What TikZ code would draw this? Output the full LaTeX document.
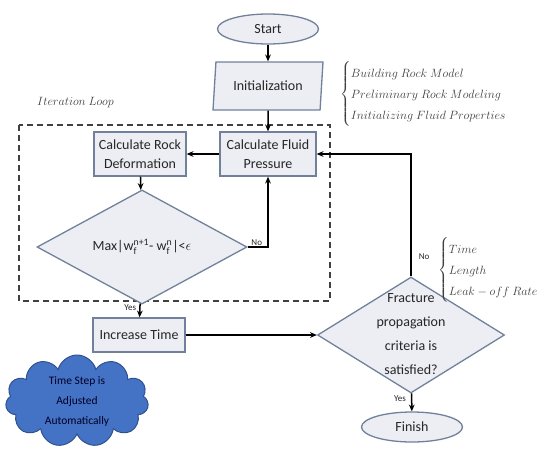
\documentclass[tikz,border=0pt]{standalone}
\usepackage{amsmath}
\usepackage{fontspec}
\setmainfont{Carlito}
\usetikzlibrary{arrows.meta,shapes.geometric,shapes.symbols}
\definecolor{boxfill}{HTML}{ECEEF3}
\definecolor{boxline}{HTML}{71819B}
\definecolor{cloudx}{HTML}{4472C4}
\definecolor{cloudline}{HTML}{2F528F}
\definecolor{notex}{HTML}{3F3F3F}
\definecolor{inkx}{HTML}{262626}
\tikzset{
  ar/.style={-{Stealth[length=2.4mm,width=2mm]},line width=1.5pt,black},
  box/.style={draw=boxline,line width=1.3pt,fill=boxfill,align=center,text=inkx,font=\fontsize{14}{19}\selectfont,inner sep=2pt},
  term/.style={box,ellipse,minimum width=101,minimum height=30},
  dec/.style={box,diamond,inner sep=0pt},
  io/.style={box,trapezium,trapezium left angle=78,trapezium right angle=102,trapezium stretches body,minimum width=110,minimum height=48},
  tag/.style={font=\fontsize{9}{10}\selectfont,text=inkx,inner sep=1pt},
  note/.style={text=notex,font=\fontsize{13}{21}\selectfont,inner sep=0pt}
}

\begin{document}
\begin{tikzpicture}[x=1pt,y=-1pt]
\useasboundingbox (0,0) rectangle (548,448);
% iteration loop frame
\draw[black!75,line width=1.2pt,dash pattern=on 6pt off 4pt] (19,125) rectangle (330,301);
\node[note,anchor=west] (looplbl) at (37,103) {$Iteration\ Loop$};
% flow
\node[term] (start) at (268,29) {Start};
\node[io] (init) at (268,86) {Initialization};
\node[box,minimum width=96,minimum height=44] (fluid) at (268,154) {Calculate Fluid\\Pressure};
\node[box,minimum width=92,minimum height=44] (rock) at (140,154) {Calculate Rock\\Deformation};
\node[dec,minimum width=210,minimum height=106] (conv) at (142,247) {Max|w$_\text{f}^\text{n+1}$- w$_\text{f}^\text{n}$|<$\epsilon$};
\node[box,minimum width=92,minimum height=34] (incr) at (139,335) {Increase Time};
\node[dec,minimum width=187,minimum height=116] (frac) at (411,335) {};
\node[align=center,text=inkx,font=\fontsize{14}{24}\selectfont] (fractxt) at (411,334) {Fracture\\propagation\\criteria is\\satisfied?};
\node[term] (finish) at (412,427) {Finish};
\node[cloud,cloud puffs=11,cloud ignores aspect,draw=cloudline,line width=1pt,fill=cloudx,minimum width=143,minimum height=92,inner sep=0pt,align=center,text=black!85!blue,font=\fontsize{11.5}{20}\selectfont] (tstep) at (77,401) {Time Step is\\Adjusted\\Automatically};
% notes
\node[note,anchor=west] (initnote) at (340,94) {$\left\{\begin{array}{@{}l@{}}Building\ Rock\ Model\\Preliminary\ Rock\ Modeling\\Initializing\ Fluid\ Properties\end{array}\right.$};
\node[note,anchor=west] (fracnote) at (438,270) {$\left\{\begin{array}{@{}l@{}}Time\\Length\\Leak-off\ Rate\end{array}\right.$};
% connectors
\draw[ar] (start) -- (init);
\draw[ar] (init) -- (fluid);
\draw[ar] (fluid) -- (rock);
\draw[ar] (rock) -- (conv);
\draw[ar] (conv.east) -| (fluid.south) node[tag,pos=0.05,above right] (no1) {No};
\draw[ar] (conv) -- (incr) node[tag,pos=0.3,left=2pt] (yes1) {Yes};
\draw[ar] (incr) -- (frac);
\draw[ar] (frac.north) |- (fluid.east) node[tag,pos=0.08,right=6pt] (no2) {No};
\draw[ar] (frac) -- (finish) node[tag,pos=0.3,left=4pt] (yes2) {Yes};
\end{tikzpicture}
\end{document}
